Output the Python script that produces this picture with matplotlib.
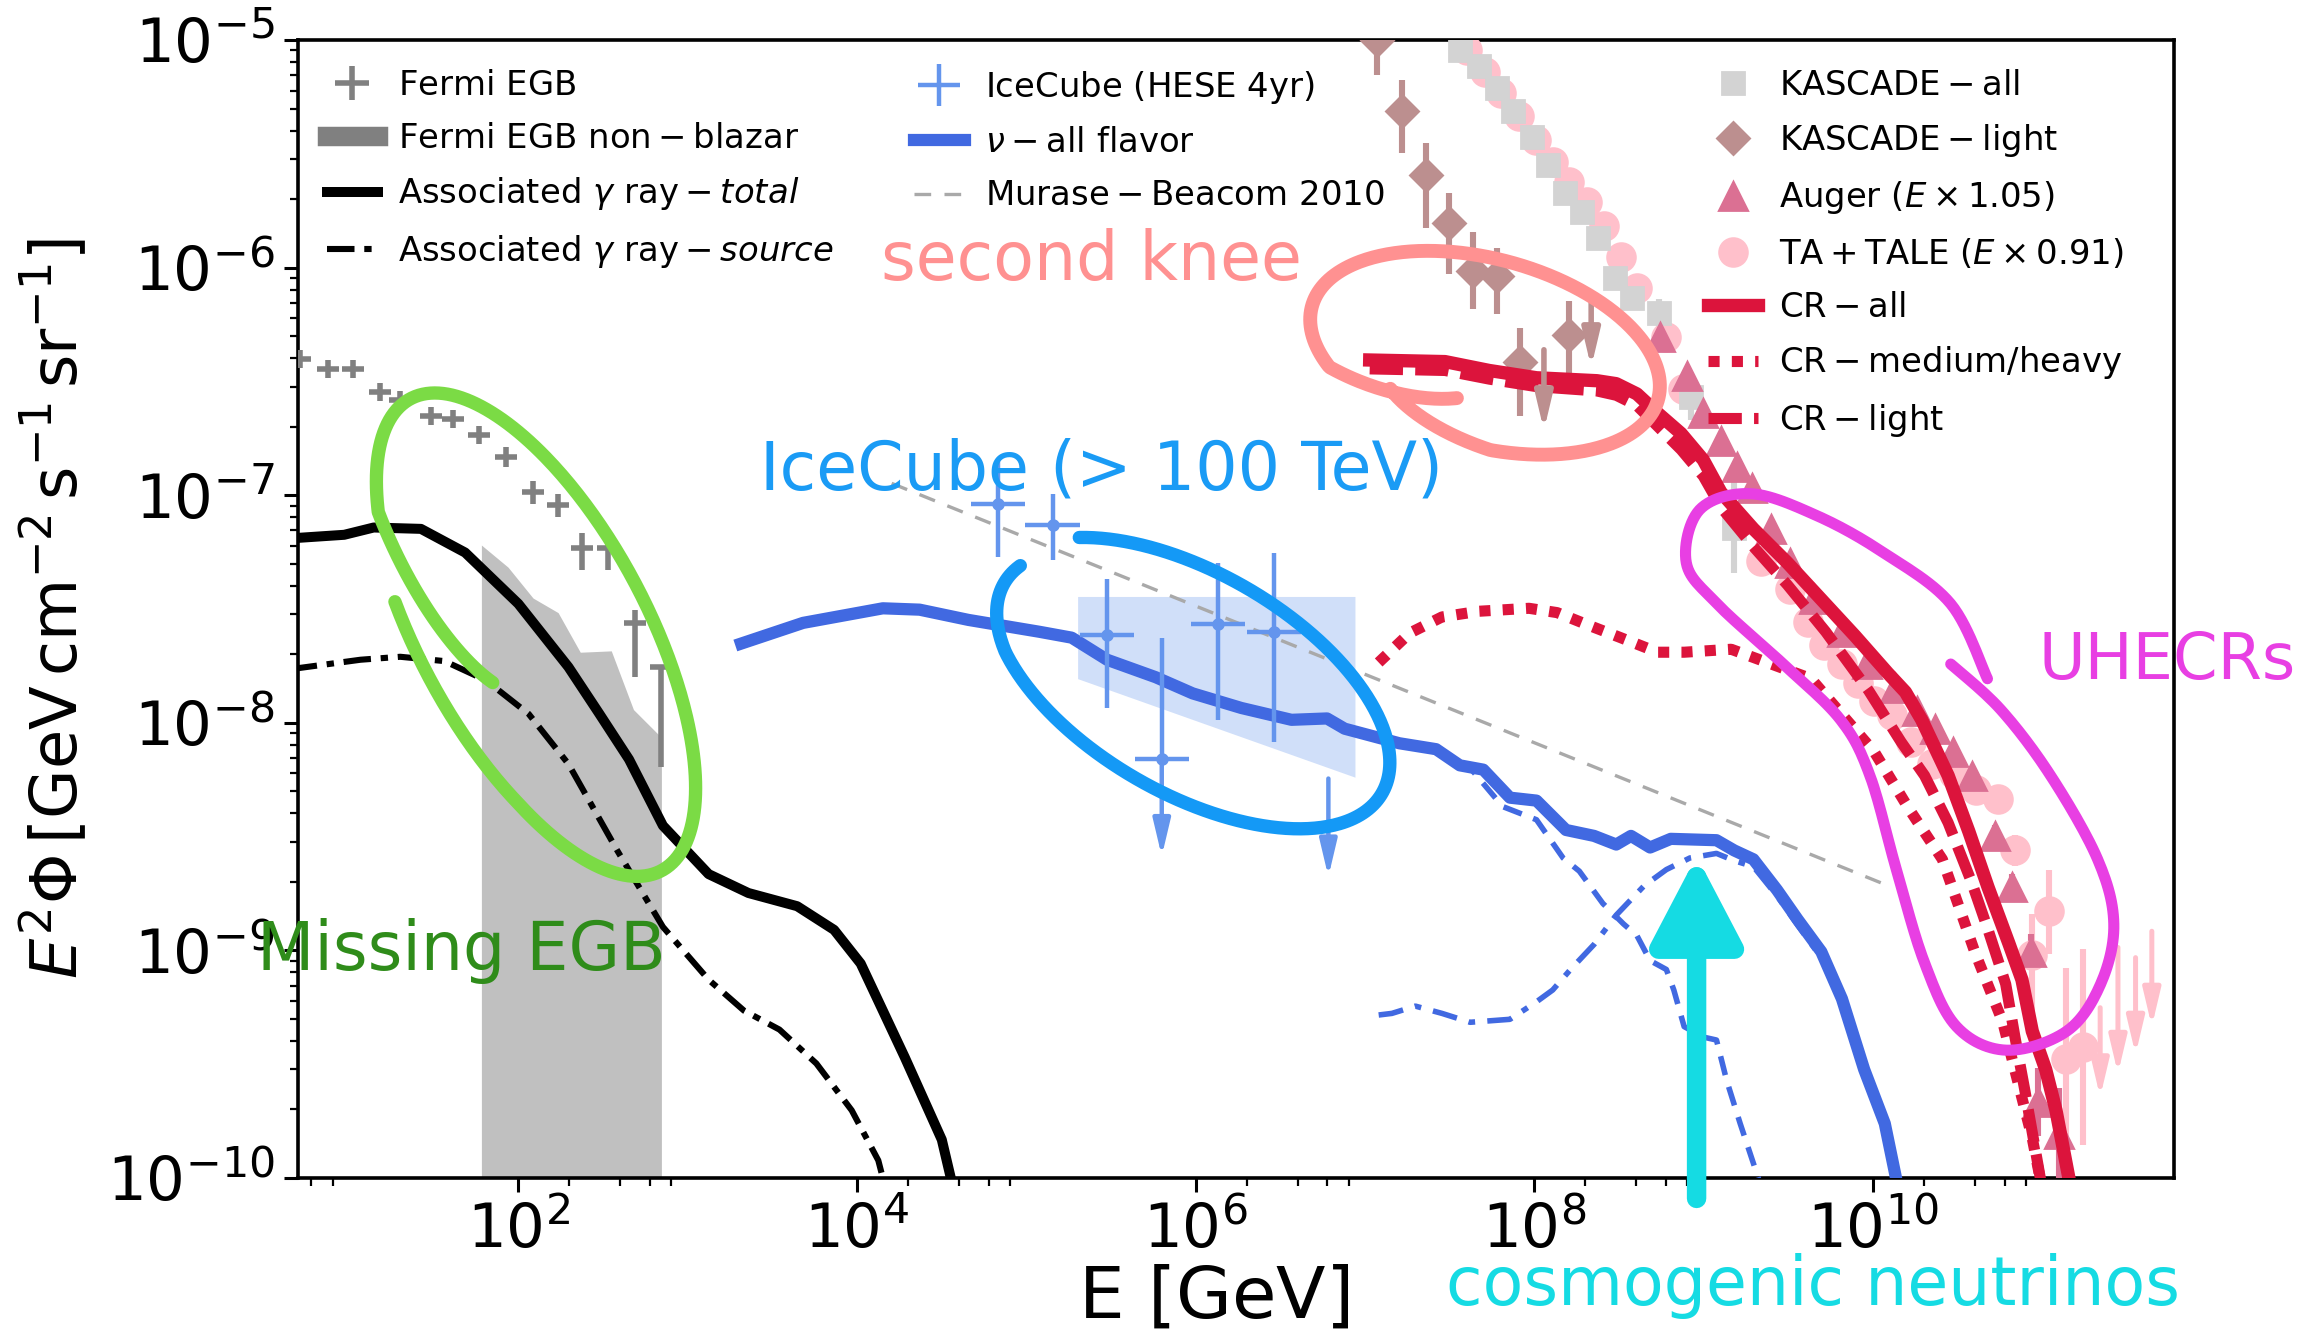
import numpy as np
import matplotlib
matplotlib.use("Agg")
import matplotlib.pyplot as plt
from matplotlib.lines import Line2D
from matplotlib.patches import FancyArrowPatch
from matplotlib.ticker import FixedLocator, LogLocator, NullFormatter

# values, kept as log10(E / GeV) and log10(E^2 Phi)

# Fermi EGB points
fermi_lx = [0.710, 0.876, 1.024, 1.181, 1.303, 1.486, 1.617, 1.765, 1.930, 2.087, 2.235, 2.375, 2.532, 2.688, 2.845]
fermi_ly = [-6.400, -6.445, -6.445, -6.548, -6.581, -6.652, -6.665, -6.735, -6.832, -6.987, -7.045, -7.232, -7.232, -7.561, -7.755]
fermi_up = [0.04, 0.04, 0.04, 0.04, 0.04, 0.04, 0.04, 0.04, 0.045, 0.05, 0.05, 0.064, 0.06, 0.058, 0.01]
fermi_dn = [0.04, 0.04, 0.04, 0.04, 0.04, 0.04, 0.04, 0.04, 0.045, 0.05, 0.05, 0.097, 0.097, 0.239, 0.44]

# Fermi EGB non-blazar band (upper edge)
nb_lx = [1.782, 1.939, 2.087, 2.235, 2.366, 2.549, 2.680, 2.828, 2.845]
nb_ly = [-7.219, -7.316, -7.452, -7.516, -7.690, -7.684, -7.942, -8.052, -8.052]

# associated gamma rays
gt_lx = [0.65, 0.972, 1.146, 1.425, 1.686, 2.000, 2.296, 2.479, 2.654, 2.854, 3.124, 3.359, 3.647, 3.865, 4.022, 4.283, 4.501, 4.570]
gt_ly = [-7.19, -7.174, -7.142, -7.148, -7.252, -7.477, -7.755, -7.961, -8.161, -8.452, -8.665, -8.748, -8.806, -8.910, -9.058, -9.471, -9.832, -10.05]
gs_lx = [0.65, 1.068, 1.303, 1.564, 1.808, 2.061, 2.296, 2.584, 2.854, 3.124, 3.333, 3.542, 3.760, 3.969, 4.126, 4.170]
gs_ly = [-7.765, -7.723, -7.710, -7.729, -7.813, -7.961, -8.181, -8.561, -8.897, -9.129, -9.265, -9.348, -9.497, -9.703, -9.923, -10.05]

# neutrinos: all flavor total, CR-like part (dashed), cosmogenic part (dash-dot)
nu_lx = [3.316, 3.682, 4.153, 4.370, 4.658, 5.076, 5.268, 5.477, 5.765, 5.983, 6.270, 6.566, 6.776, 6.880,
         7.203, 7.420, 7.560, 7.699, 7.856, 8.013, 8.187, 8.353, 8.484, 8.571, 8.684, 8.806, 9.076, 9.181,
         9.294, 9.434, 9.556, 9.695, 9.817, 9.948, 10.070, 10.150]
nu_ly = [-7.652, -7.561, -7.497, -7.503, -7.548, -7.600, -7.626, -7.723, -7.800, -7.871, -7.935, -7.987, -7.981, -8.026,
         -8.090, -8.116, -8.187, -8.206, -8.329, -8.342, -8.471, -8.497, -8.535, -8.497, -8.548, -8.510, -8.516, -8.561,
         -8.600, -8.735, -8.865, -9.006, -9.213, -9.523, -9.761, -10.05]
nd_lx = [7.203, 7.420, 7.630, 7.813, 8.013, 8.170, 8.266, 8.405, 8.527, 8.606, 8.684, 8.780, 8.824, 8.885,
         8.998, 9.076, 9.137, 9.216, 9.345]
nd_ly = [-8.090, -8.129, -8.206, -8.368, -8.426, -8.594, -8.652, -8.794, -8.884, -8.935, -9.045, -9.084, -9.174, -9.335,
         -9.381, -9.394, -9.574, -9.761, -10.05]
nc_lx = [7.081, 7.159, 7.298, 7.455, 7.621, 7.856, 8.013, 8.109, 8.214, 8.353, 8.484, 8.649, 8.780, 8.919, 9.076,
         9.181, 9.294, 9.434, 9.556, 9.695, 9.817, 9.948, 10.070, 10.140]
nc_ly = [-9.284, -9.277, -9.245, -9.277, -9.316, -9.303, -9.226, -9.174, -9.084, -8.974, -8.845, -8.716, -8.645, -8.594,
         -8.574, -8.606, -8.632, -8.761, -8.890, -9.032, -9.239, -9.548, -9.794, -10.05]

# Murase & Beacom 2010
mb_lx = [4.205, 7.160, 10.113]
mb_ly = [-6.948, -7.835, -8.723]

# IceCube HESE 4yr
ic_lx = [4.832, 5.155, 5.477, 5.800, 6.131, 6.462]
ic_ly = [-7.039, -7.129, -7.613, -8.161, -7.568, -7.600]
ic_hi = [-6.845, -6.994, -7.368, -7.626, -7.297, -7.252]
ic_lo = [-7.271, -7.284, -7.935, -8.161, -7.987, -8.084]
ic_xw = [0.16, 0.16, 0.16, 0.16, 0.16, 0.16]
ic_arrow_lx = [5.800, 6.784]
ic_arrow_top = [-8.161, -8.245]
ic_arrow_bot = [-8.587, -8.677]
ic_band_lx = [5.303, 6.941]
ic_band_hi = [-7.445, -7.445]
ic_band_lo = [-7.806, -8.239]

# cosmic rays
cr_all_lx = [7.028, 7.473, 7.734, 8.013, 8.370, 8.484, 8.606, 8.728, 8.867, 8.998, 9.102, 9.294, 9.495, 9.695,
             9.895, 10.087, 10.192, 10.288, 10.444, 10.566, 10.680, 10.802, 10.880, 10.941, 11.020, 11.081, 11.170]
cr_all_ly = [-6.406, -6.413, -6.452, -6.484, -6.497, -6.510, -6.555, -6.639, -6.729, -6.845, -6.987, -7.148, -7.297, -7.458,
             -7.619, -7.781, -7.865, -7.987, -8.232, -8.477, -8.723, -8.968, -9.129, -9.355, -9.523, -9.703, -10.05]
cr_light_lx = [7.028, 7.473, 7.734, 8.013, 8.370, 8.484, 8.606, 8.728, 8.867, 8.998, 9.102, 9.294, 9.495, 9.721,
               9.974, 10.166, 10.305, 10.444, 10.584, 10.680, 10.784, 10.837, 10.898, 10.976, 11.000]
cr_light_ly = [-6.445, -6.452, -6.490, -6.523, -6.542, -6.561, -6.606, -6.697, -6.800, -6.916, -7.052, -7.226, -7.394, -7.600,
               -7.858, -8.084, -8.232, -8.439, -8.703, -8.910, -9.148, -9.374, -9.619, -9.948, -10.05]
cr_heavy_lx = [7.081, 7.264, 7.455, 7.673, 7.969, 8.135, 8.309, 8.510, 8.728, 8.885, 9.163, 9.634, 10.009, 10.209,
               10.410, 10.601, 10.767, 10.837, 10.941, 11.000]
cr_heavy_ly = [-7.735, -7.606, -7.535, -7.510, -7.497, -7.516, -7.568, -7.626, -7.690, -7.690, -7.677, -7.806, -8.129, -8.374,
               -8.600, -9.006, -9.316, -9.523, -9.826, -10.05]

# KASCADE(-Grande) all particle
ka_lx = [7.560, 7.673, 7.778, 7.874, 7.987, 8.083, 8.179, 8.283, 8.379, 8.475, 8.580, 8.736, 8.928, 9.181]
ka_ly = [-5.045, -5.116, -5.213, -5.310, -5.426, -5.548, -5.671, -5.755, -5.871, -6.045, -6.135, -6.200, -6.568, -7.142]
ka_err = [0.02, 0.02, 0.02, 0.02, 0.02, 0.03, 0.03, 0.03, 0.04, 0.05, 0.05, 0.06, 0.10, 0.20]

# KASCADE light
kl_lx = [7.072, 7.220, 7.359, 7.499, 7.638, 7.778, 7.917, 8.205]
kl_ly = [-5.000, -5.310, -5.594, -5.806, -6.013, -6.039, -6.413, -6.297]
kl_hi = [-4.85, -5.174, -5.452, -5.671, -5.845, -5.916, -6.265, -6.148]
kl_lo = [-5.155, -5.497, -5.826, -6.026, -6.181, -6.206, -6.652, -6.497]
kl_arrow_lx = [8.057, 8.336]
kl_arrow_top = [-6.361, -6.155]
kl_arrow_bot = [-6.716, -6.439]

# Auger (E x 1.05)
au_lx = [8.745, 8.902, 8.998, 9.102, 9.198, 9.285, 9.399, 9.512, 9.652, 9.817, 9.965, 10.131, 10.261, 10.366,
         10.471, 10.584, 10.723, 10.819, 10.932, 10.976, 11.098]
au_ly = [-6.303, -6.477, -6.639, -6.761, -6.877, -6.968, -7.148, -7.297, -7.458, -7.600, -7.742, -7.845, -7.948, -8.026,
         -8.129, -8.232, -8.497, -8.723, -9.006, -9.665, -9.806]
au_err = [0.02, 0.02, 0.02, 0.02, 0.02, 0.02, 0.02, 0.02, 0.02, 0.02, 0.02, 0.02, 0.03, 0.03,
          0.03, 0.04, 0.05, 0.06, 0.08, 0.15, 0.20]

# TA + TALE (E x 0.91)
ta_lx = [7.603, 7.708, 7.804, 7.908, 8.013, 8.109, 8.205, 8.309, 8.414, 8.510, 8.606, 8.780, 8.876, 9.338, 9.512,
         9.617, 9.712, 9.817, 9.913, 10.009, 10.113, 10.226, 10.348, 10.480, 10.610, 10.741, 10.837, 11.037, 10.941,
         11.142, 11.238]
ta_ly = [-5.045, -5.142, -5.232, -5.335, -5.439, -5.535, -5.626, -5.710, -5.819, -5.955, -6.090, -6.303, -6.535, -7.290,
         -7.413, -7.555, -7.658, -7.742, -7.826, -7.903, -7.968, -8.084, -8.181, -8.226, -8.297, -8.335, -8.561, -8.826,
         -9.019, -9.477, -9.426]
ta_hi = [0.02, 0.02, 0.02, 0.02, 0.02, 0.02, 0.02, 0.02, 0.02, 0.02, 0.02, 0.02, 0.02, 0.02, 0.02, 0.02, 0.02, 0.02,
         0.02, 0.02, 0.03, 0.03, 0.03, 0.04, 0.04, 0.05, 0.07, 0.18, 0.18, 0.40, 0.43]
ta_lo = [0.02, 0.02, 0.02, 0.02, 0.02, 0.02, 0.02, 0.02, 0.02, 0.02, 0.02, 0.02, 0.02, 0.02, 0.02, 0.02, 0.02, 0.02,
         0.02, 0.02, 0.03, 0.03, 0.03, 0.04, 0.04, 0.05, 0.07, 0.19, 0.27, 0.38, 0.43]
ta_arrow_lx = [11.342, 11.447, 11.551, 11.647]
ta_arrow_top = [-9.252, -8.987, -9.032, -8.916]
ta_arrow_bot = [-9.645, -9.542, -9.458, -9.335]


def p10(v):
    return 10.0 ** np.asarray(v, dtype=float)


def yerr_of(ly, dn, up):
    return [p10(ly) - p10(np.subtract(ly, dn)), p10(np.add(ly, up)) - p10(ly)]


def down_arrows(lxs, tops, bots, color, lw):
    for lx, top, bot in zip(lxs, tops, bots):
        ax.annotate("", xy=(10 ** lx, 10 ** bot), xytext=(10 ** lx, 10 ** top),
                    arrowprops=dict(arrowstyle="-|>,head_length=0.55,head_width=0.13", color=color, lw=lw,
                                    shrinkA=0, shrinkB=0, mutation_scale=20), zorder=5)


c_cr = "crimson"
c_nu = "royalblue"
c_ic = "cornflowerblue"

fig = plt.figure(figsize=(11.515, 6.715), dpi=200)
ax = fig.add_axes([0.1294, 0.1229, 0.8146, 0.8473])
ax.set_xscale("log")
ax.set_yscale("log")

# gamma rays
fermi = ax.errorbar(p10(fermi_lx), p10(fermi_ly),
                    xerr=[p10(fermi_lx) - p10(np.subtract(fermi_lx, 0.065)), p10(np.add(fermi_lx, 0.065)) - p10(fermi_lx)],
                    yerr=yerr_of(fermi_ly, fermi_dn, fermi_up),
                    fmt="none", ecolor="gray", elinewidth=2.0, zorder=3)
ax.fill_between(p10(nb_lx), 1e-11, p10(nb_ly), color="silver", lw=0, zorder=1)
ax.plot(p10(gt_lx), p10(gt_ly), color="black", lw=3.6, zorder=3)
ax.plot(p10(gs_lx), p10(gs_ly), color="black", lw=2.2, dashes=(4.5, 1.6, 1.2, 1.6), zorder=3)

# neutrinos
ax.fill_between(p10(ic_band_lx), p10(ic_band_lo), p10(ic_band_hi), color=c_ic, alpha=0.3, lw=0, zorder=1)
ax.plot(p10(mb_lx), p10(mb_ly), color="darkgray", lw=1.2, dashes=(5, 4), zorder=2)
ax.plot(p10(nd_lx), p10(nd_ly), color=c_nu, lw=2.0, dashes=(3.5, 2.2), zorder=3)
ax.plot(p10(nc_lx), p10(nc_ly), color=c_nu, lw=2.0, dashes=(4.5, 2.2, 1.2, 2.2), zorder=3)
ax.plot(p10(nu_lx), p10(nu_ly), color=c_nu, lw=4.4, zorder=4)
icx = p10(ic_lx)
ax.errorbar(icx, p10(ic_ly),
            xerr=[icx - p10(np.subtract(ic_lx, ic_xw)), p10(np.add(ic_lx, ic_xw)) - icx],
            yerr=[p10(ic_ly) - p10(ic_lo), p10(ic_hi) - p10(ic_ly)],
            fmt="o", ms=3.5, color=c_ic, elinewidth=1.6, zorder=5)
down_arrows(ic_arrow_lx, ic_arrow_top, ic_arrow_bot, c_ic, 1.6)

# cosmic ray data
ax.errorbar(p10(ta_lx), p10(ta_ly), yerr=yerr_of(ta_ly, ta_lo, ta_hi),
            fmt="o", ms=10, color="pink", elinewidth=2.2, zorder=3)
down_arrows(ta_arrow_lx, ta_arrow_top, ta_arrow_bot, "pink", 1.8)
ax.errorbar(p10(ka_lx), p10(ka_ly), yerr=yerr_of(ka_ly, ka_err, ka_err),
            fmt="s", ms=8, color="lightgray", elinewidth=2.2, zorder=3)
ax.errorbar(p10(au_lx), p10(au_ly), yerr=yerr_of(au_ly, au_err, au_err),
            fmt="^", ms=10, color="palevioletred", elinewidth=2.2, zorder=3)
ax.errorbar(p10(kl_lx), p10(kl_ly), yerr=[p10(kl_ly) - p10(kl_lo), p10(kl_hi) - p10(kl_ly)],
            fmt="D", ms=8, color="rosybrown", elinewidth=2.2, zorder=3)
down_arrows(kl_arrow_lx, kl_arrow_top, kl_arrow_bot, "rosybrown", 2.0)

# cosmic ray model
ax.plot(p10(cr_heavy_lx), p10(cr_heavy_ly), color=c_cr, lw=4.0, dashes=(1, 1.1), solid_capstyle="butt", zorder=4)
ax.plot(p10(cr_light_lx), p10(cr_light_ly), color=c_cr, lw=4.0, dashes=(3, 1.1), zorder=4)
ax.plot(p10(cr_all_lx), p10(cr_all_ly), color=c_cr, lw=4.8, zorder=4)

ax.set_xlim(5, 6e11)
ax.set_ylim(1e-10, 1e-5)

ax.xaxis.set_major_locator(FixedLocator([1e2, 1e4, 1e6, 1e8, 1e10]))
ax.xaxis.set_minor_locator(FixedLocator([s * 10.0 ** k for k in (0, 2, 4, 6, 8, 10) for s in (2, 4, 6, 8)]))
ax.xaxis.set_minor_formatter(NullFormatter())
ax.yaxis.set_major_locator(LogLocator(base=10, numticks=20))
ax.yaxis.set_minor_locator(LogLocator(base=10, subs=np.arange(2, 10), numticks=20))
ax.yaxis.set_minor_formatter(NullFormatter())
ax.tick_params(which="major", labelsize=22, length=5, width=1.1)
ax.tick_params(which="minor", length=3, width=0.8)
for s in ax.spines.values():
    s.set_linewidth(1.3)

ax.set_xlabel(r"$\mathrm{E\ [GeV]}$", fontsize=26, labelpad=4)
ax.xaxis.set_label_coords(0.488, -0.075)
ax.set_ylabel(r"$E^2\Phi\,[\mathrm{GeV\,cm^{-2}\,s^{-1}\,sr^{-1}}]$", fontsize=23, labelpad=6)

# legends
lkw = dict(loc="upper left", frameon=False, fontsize=12.2, labelspacing=0.6, handlelength=1.5,
           handletextpad=0.6, borderaxespad=0.45)
h1 = [fermi, Line2D([], [], color="gray", lw=7), Line2D([], [], color="black", lw=3.6),
      Line2D([], [], color="black", lw=2.2, dashes=(4.5, 1.6, 1.2, 1.6))]
l1 = [r"$\mathrm{Fermi\ EGB}$", r"$\mathrm{Fermi\ EGB\ non-blazar}$",
      r"$\mathrm{Associated}\ \gamma\ \mathrm{ray}-\mathit{total}$",
      r"$\mathrm{Associated}\ \gamma\ \mathrm{ray}-\mathit{source}$"]
leg1 = ax.legend(h1, l1, bbox_to_anchor=(0.0, 1.0), **lkw)
ax.add_artist(leg1)
h2 = [Line2D([], [], color=c_ic, marker="+", ms=15, mew=1.6, ls="none"),
      Line2D([], [], color=c_nu, lw=4.4), Line2D([], [], color="darkgray", lw=1.2, dashes=(5, 4))]
l2 = [r"$\mathrm{IceCube\ (HESE\ 4yr)}$", r"$\nu-\mathrm{all\ flavor}$", r"$\mathrm{Murase-Beacom\ 2010}$"]
leg2 = ax.legend(h2, l2, bbox_to_anchor=(0.313, 1.0), **lkw)
ax.add_artist(leg2)
h3 = [Line2D([], [], color="lightgray", marker="s", ms=8, ls="none"),
      Line2D([], [], color="rosybrown", marker="D", ms=8, ls="none"),
      Line2D([], [], color="palevioletred", marker="^", ms=10, ls="none"),
      Line2D([], [], color="pink", marker="o", ms=10, ls="none"),
      Line2D([], [], color=c_cr, lw=4.8),
      Line2D([], [], color=c_cr, lw=4.0, dashes=(1, 1.1)),
      Line2D([], [], color=c_cr, lw=4.0, dashes=(3, 1.1))]
l3 = [r"$\mathrm{KASCADE-all}$", r"$\mathrm{KASCADE-light}$", r"$\mathrm{Auger}\ (E\times 1.05)$",
      r"$\mathrm{TA+TALE}\ (E\times 0.91)$", r"$\mathrm{CR-all}$", r"$\mathrm{CR-medium/heavy}$", r"$\mathrm{CR-light}$"]
ax.legend(h3, l3, bbox_to_anchor=(0.736, 1.0), **lkw)

# hand-drawn highlights, in a frame where the axes box is AX_W x AX_H
AX_W, AX_H = 1277.0, 775.0


def to_frac(u, v):
    return np.asarray(u) / AX_W, np.asarray(v) / AX_H


def loop(cx, cy, a, b, ang, t0, t1, s0=1.0, s1=1.0, ramp=0.8):
    t = np.linspace(t0, t1, 400)
    d0 = np.abs(t - t0)
    d1 = np.abs(t1 - t)
    k = np.ones_like(t)
    k = np.where(d0 < ramp, s0 + (1 - s0) * d0 / ramp, k)
    k = np.where(d1 < ramp, s1 + (1 - s1) * d1 / ramp, k)
    x = a * k * np.cos(t)
    y = b * k * np.sin(t)
    r = np.deg2rad(ang)
    u = cx + x * np.cos(r) - y * np.sin(r)
    v = cy + x * np.sin(r) + y * np.cos(r)
    return to_frac(u, v)


def smooth(pts, n=14):
    p = np.asarray(pts, float)
    p = np.vstack([p[0], p, p[-1]])
    out = []
    for i in range(1, len(p) - 2):
        p0, p1, p2, p3 = p[i - 1], p[i], p[i + 1], p[i + 2]
        for s in np.linspace(0, 1, n, endpoint=False):
            out.append(0.5 * (2 * p1 + (-p0 + p2) * s + (2 * p0 - 5 * p1 + 4 * p2 - p3) * s ** 2
                              + (-p0 + 3 * p1 - 3 * p2 + p3) * s ** 3))
    out.append(p[-2])
    out = np.array(out)
    return to_frac(out[:, 0], out[:, 1])


green_loop = loop(162, 370, 182, 76, -62, -np.pi / 2 - 0.35, 3 * np.pi / 2 + 0.15, s0=1.04, s1=0.55, ramp=0.9)
blue_loop = loop(608, 337, 150, 75, -30, 0.78 * np.pi, -1.05 * np.pi, s0=1.0, s1=0.95)
knee_loop = loop(808, 562, 122, 64, -15, 1.3 * np.pi, 3.45 * np.pi, s0=0.78, s1=0.55)
uhecr_pts = [(1150, 340), (1125, 391), (1079, 426), (1034, 451), (989, 466), (954, 455), (945, 419), (966, 391),
             (1011, 350), (1050, 312), (1070, 274), (1088, 210), (1107, 147), (1129, 103), (1163, 87), (1204, 100),
             (1227, 132), (1236, 173), (1225, 217), (1193, 274), (1159, 319), (1125, 350)]
uhecr_loop = smooth(uhecr_pts)

ax.plot(*green_loop, color="#7BDB45", lw=4.8, transform=ax.transAxes, solid_capstyle="round", zorder=8)
ax.plot(*blue_loop, color="#1499F6", lw=4.8, transform=ax.transAxes, solid_capstyle="round", zorder=8)
ax.plot(*knee_loop, color="#FF9191", lw=5.0, transform=ax.transAxes, solid_capstyle="round", zorder=8)
ax.plot(*uhecr_loop, color="#E83FE3", lw=4.0, transform=ax.transAxes, solid_capstyle="round", zorder=8)

arrow = FancyArrowPatch((0.7455, -0.018), (0.7455, 0.283), transform=ax.transAxes,
                        arrowstyle="-|>,head_length=0.42,head_width=0.22", mutation_scale=62,
                        shrinkA=0, shrinkB=0, color="#15DBE3", lw=7.0, clip_on=False, zorder=9)
ax.add_patch(arrow)

tkw = dict(transform=ax.transAxes, family="DejaVu Sans", va="center", ha="left", zorder=9)
ax.text(0.311, 0.806, "second knee", color="#FF9191", fontsize=24, **tkw)
ax.text(0.246, 0.622, "IceCube (> 100 TeV)", color="#1A9BF5", fontsize=24, **tkw)
ax.text(-0.022, 0.199, "Missing EGB", color="#2F8C1A", fontsize=24, **tkw)
ax.text(0.928, 0.454, "UHECRs", color="#E83FE3", fontsize=23, **tkw)
ax.text(0.612, -0.095, "cosmogenic neutrinos", color="#15DBE3", fontsize=24, **tkw)

fig.savefig("out.png", dpi=200)
